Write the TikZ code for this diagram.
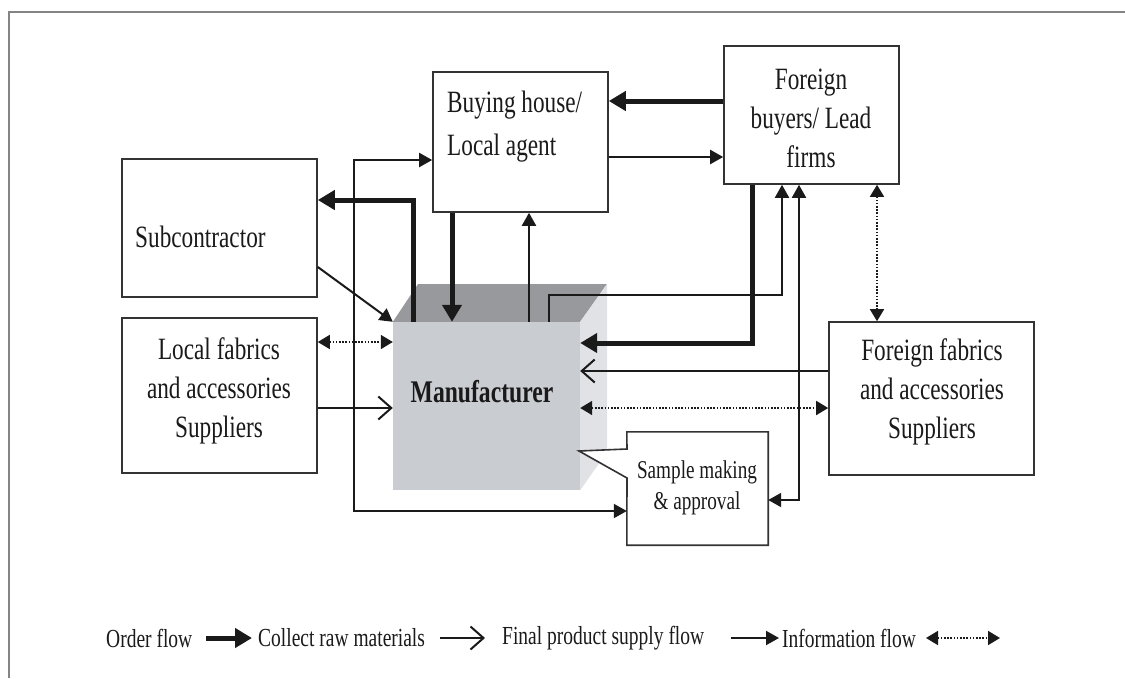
\documentclass[tikz,border=0pt]{standalone}
\usepackage{fontspec}
\setmainfont{Liberation Serif}[FakeStretch=0.75]
\usetikzlibrary{arrows.meta}
\definecolor{ink}{HTML}{1A1A1A}
\definecolor{boxline}{HTML}{333333}
\definecolor{framegray}{HTML}{858585}
\definecolor{cubefront}{RGB}{201,204,208}
\definecolor{cubetop}{RGB}{152,153,157}
\definecolor{cubeside}{RGB}{224,226,229}

\begin{document}
\begin{tikzpicture}[x=1pt,y=-1pt,
  box/.style={draw=boxline, line width=1.6pt, fill=white, inner sep=0pt},
  txt/.style={inner sep=0pt, text=ink, font=\fontsize{31}{39}\selectfont},
  smalltxt/.style={inner sep=0pt, text=ink, font=\fontsize{25.6}{31}\selectfont},
  legtxt/.style={inner sep=0pt, text=ink, anchor=west, font=\fontsize{26}{30}\selectfont},
  order/.style={draw=ink, line width=5pt, -{Triangle[length=17pt,width=19pt]}},
  supply/.style={draw=ink, line width=2pt, -{Triangle[length=13pt,width=14pt]}},
  supplyboth/.style={draw=ink, line width=2pt, {Triangle[length=13pt,width=14pt]}-{Triangle[length=13pt,width=14pt]}},
  raw/.style={draw=ink, line width=2pt, -{Straight Barb[length=13pt,width=23pt]}},
  info/.style={draw=ink, line width=1.7pt, dash pattern=on 1.6pt off 1.6pt,
    {Triangle[length=12pt,width=14pt]}-{Triangle[length=12pt,width=14pt]}}]

% page and frame
\useasboundingbox (0,0) rectangle (1125,678);
\fill[white] (0,0) rectangle (1125,678);
\draw[framegray, line width=1.6pt] (9,678) -- (9,12) -- (1125,12);

% manufacturer block drawn as a shaded cube
\node[fill=cubefront, minimum width=187, minimum height=168, inner sep=0pt] (mfr) at (486.5,406) {};
\fill[cubetop] (mfr.north west) -- (418,284) -- (607,284) -- (mfr.north east) -- cycle;
\fill[cubeside] (mfr.north east) -- (607,284) -- (607,452) -- (mfr.south east) -- cycle;
\node[inner sep=0pt, text=ink, font=\fontsize{31.5}{38}\selectfont\bfseries] (mfrt) at (482,392) {Manufacturer};

% boxes
\node[box, minimum width=175, minimum height=140] (bh) at (520.5,142) {};
\node[txt, anchor=west, align=left] (bht) at (447,126.5) {Buying house/\\[4pt]Local agent};

\node[box, minimum width=175, minimum height=138] (fb) at (811.5,115) {};
\node[txt, align=center] (fbt) at (811,118.5) {Foreign\\buyers/ Lead\\firms};

\node[box, minimum width=195, minimum height=138] (sub) at (219.5,228) {};
\node[txt, anchor=west] (subt) at (135,237) {Subcontractor};

\node[box, minimum width=195, minimum height=155] (lf) at (219.5,395.5) {};
\node[txt, align=center] (lft) at (219,391) {Local fabrics\\and accessories\\Suppliers};

\node[box, minimum width=205, minimum height=153] (ff) at (931.5,398.5) {};
\node[txt, align=center] (fft) at (932,391.5) {Foreign fabrics\\and accessories\\Suppliers};

% sample making callout pointing at the manufacturer
\node[minimum width=141, minimum height=113, inner sep=0pt] (smp) at (697.5,488.5) {};
\filldraw[fill=white, draw=boxline, line width=1.6pt, line join=miter]
  (smp.north west) -- (smp.north east) -- (smp.south east) -- (smp.south west)
  -- (627,478) -- (579,451) -- (627,449) -- cycle;
\node[smalltxt, align=center] (smpt) at (697,487.5) {Sample making\\\& approval};

% connectors
\draw[order] (fb.west |- 0,101) -- (bh.east |- 0,101);
\draw[supply] (bh.east |- 0,157) -- (fb.west |- 0,157);
\draw[supplyboth] (bh.west |- 0,160) -- (354,160) -- (354,511) -- (smp.west |- 0,511);
\draw[order] (mfr.north -| 413,0) -- (413,200) -- (sub.east |- 0,200);
\draw[order] (bh.south -| 452,0) -- (mfr.north -| 452,0);
\draw[supply] (mfr.north -| 529,0) -- (bh.south -| 529,0);
\draw[supply] (mfr.north -| 549,0) -- (549,295) -- (782,295) -- (fb.south -| 782,0);
\draw[order] (fb.south -| 752,0) -- (752,343) -- (mfr.east |- 0,343);
\draw[raw] (ff.west |- 0,371) -- (mfr.east |- 0,371);
\draw[info] (mfr.east |- 0,408) -- (ff.west |- 0,408);
\draw[supplyboth] (smp.east |- 0,500) -- (799,500) -- (fb.south -| 799,0);
\draw[info] (fb.south -| 877,0) -- (ff.north -| 877,0);
\draw[supply] (sub.east |- 0,267) -- (mfr.north west);
\draw[info] (lf.east |- 0,342) -- (mfr.west |- 0,342);
\draw[raw] (lf.east |- 0,408) -- (mfr.west |- 0,408);

% legend
\node[legtxt] (l1) at (106,638) {Order flow};
\node[legtxt] (l2) at (258,638) {Collect raw materials};
\node[legtxt] (l3) at (502,638) {Final product supply flow};
\node[legtxt] (l4) at (782,638) {Information flow};
\coordinate (a1s) at (206,638); \coordinate (a1e) at (252,638);
\coordinate (a2s) at (440,638); \coordinate (a2e) at (485,638);
\coordinate (a3s) at (731,638); \coordinate (a3e) at (779,638);
\coordinate (a4s) at (926,638); \coordinate (a4e) at (1000,638);
\draw[order] (a1s) -- (a1e);
\draw[raw] (a2s) -- (a2e);
\draw[supply] (a3s) -- (a3e);
\draw[info] (a4s) -- (a4e);
\end{tikzpicture}
\end{document}
